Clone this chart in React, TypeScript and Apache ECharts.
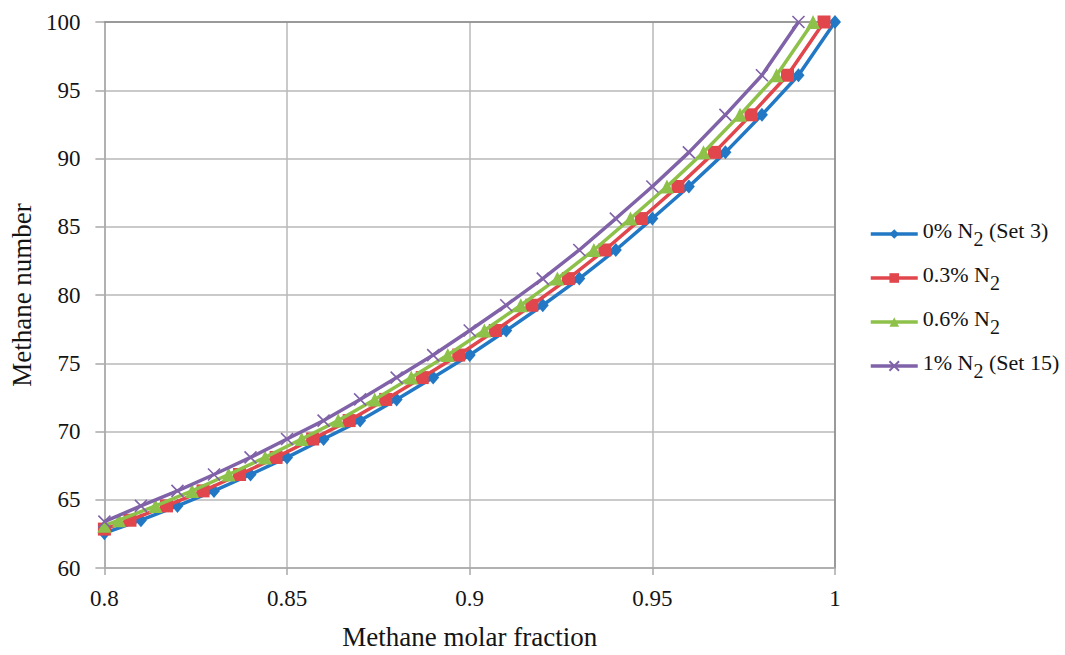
import React, { useEffect, useRef } from "react";
import * as echarts from "echarts";

const xTicks = ["0.8", "0.85", "0.9", "0.95", "1"];
const seriesNames = ["0% N2 (Set 3)", "0.3% N2", "0.6% N2", "1% N2 (Set 15)"];

const blueX = [0.80, 0.81, 0.82, 0.83, 0.84, 0.85, 0.86, 0.87, 0.88, 0.89, 0.90, 0.91, 0.92, 0.93, 0.94, 0.95, 0.96, 0.97, 0.98, 0.99, 1.00];
const blueY = [62.55, 63.5, 64.55, 65.65, 66.85, 68.1, 69.45, 70.8, 72.35, 73.95, 75.6, 77.4, 79.25, 81.2, 83.3, 85.6, 87.95, 90.45, 93.2, 96.1, 100];

const redX = [0.80, 0.807, 0.817, 0.827, 0.837, 0.847, 0.857, 0.867, 0.877, 0.887, 0.897, 0.907, 0.917, 0.927, 0.937, 0.947, 0.957, 0.967, 0.977, 0.987, 0.997];
const redY = [62.85, 63.5, 64.55, 65.65, 66.85, 68.1, 69.45, 70.8, 72.35, 73.95, 75.6, 77.4, 79.25, 81.2, 83.3, 85.6, 87.95, 90.45, 93.2, 96.1, 100];

const greenX = [0.80, 0.804, 0.814, 0.824, 0.834, 0.844, 0.854, 0.864, 0.874, 0.884, 0.894, 0.904, 0.914, 0.924, 0.934, 0.944, 0.954, 0.964, 0.974, 0.984, 0.994];
const greenY = [63.1, 63.5, 64.55, 65.65, 66.85, 68.1, 69.45, 70.8, 72.35, 73.95, 75.6, 77.4, 79.25, 81.2, 83.3, 85.6, 87.95, 90.45, 93.2, 96.1, 100];

const purpleX = [0.80, 0.81, 0.82, 0.83, 0.84, 0.85, 0.86, 0.87, 0.88, 0.89, 0.90, 0.91, 0.92, 0.93, 0.94, 0.95, 0.96, 0.97, 0.98, 0.99];
const purpleY = [63.4, 64.55, 65.65, 66.85, 68.1, 69.45, 70.8, 72.35, 73.95, 75.6, 77.4, 79.25, 81.2, 83.3, 85.6, 87.95, 90.45, 93.2, 96.1, 100];

const colors = ["#2278c4", "#e0464b", "#8ec14a", "#8062a8"];
const FONT = "Liberation Serif";
const TXT = "#141414";

const zip = (xs: number[], ys: number[]) => xs.map((x, i) => [x, ys[i]]);

const legendRich: Record<string, string> = {
  "0% N2 (Set 3)": "{n|0% N}{sub|2}{n| (Set 3)}",
  "0.3% N2": "{n|0.3% N}{sub|2}",
  "0.6% N2": "{n|0.6% N}{sub|2}",
  "1% N2 (Set 15)": "{n|1% N}{sub|2}{n| (Set 15)}",
};

export default function App() {
  const ref = useRef<HTMLDivElement>(null);
  useEffect(() => {
    if (!ref.current) return;
    const chart = echarts.init(ref.current, undefined, { renderer: "svg" });
    const mk = (i: number, data: number[][], symbol: string, size: any, extra: any = {}) => ({
      name: seriesNames[i],
      type: "line",
      data,
      symbol,
      symbolSize: size,
      showSymbol: true,
      lineStyle: { color: colors[i], width: 3.5 },
      itemStyle: { color: colors[i], ...extra },
      z: 2 + i,
    });
    chart.setOption({
      animation: false,
      backgroundColor: "#ffffff",
      grid: { left: 96, top: 22, width: 739, height: 552 },
      xAxis: [
        {
          type: "value",
          min: 0.8,
          max: 1,
          interval: 0.05,
          name: "Methane molar fraction",
          nameLocation: "middle",
          nameGap: 55,
          nameTextStyle: { fontFamily: FONT, fontSize: 27, color: TXT },
          axisLine: { show: true, lineStyle: { color: "#a8a8a8", width: 1.5 } },
          axisTick: { show: true, length: 7, lineStyle: { color: "#a8a8a8", width: 1.5 } },
          axisLabel: {
            fontFamily: FONT,
            fontSize: 23,
            color: TXT,
            margin: 19,
            formatter: (v: number) => xTicks[Math.round((v - 0.8) / 0.05)] ?? "",
          },
          splitLine: { show: true, lineStyle: { color: "#b8b8b8", width: 1.5 } },
        },
        {
          type: "value",
          position: "top",
          min: 0.8,
          max: 1,
          interval: 0.05,
          axisLine: { show: true, lineStyle: { color: "#8a8a8a", width: 1.5 } },
          axisTick: { show: false },
          axisLabel: { show: false },
          splitLine: { show: false },
        },
      ],
      yAxis: [
        {
          type: "value",
          min: 60,
          max: 100,
          interval: 5,
          name: "Methane number",
          nameLocation: "middle",
          nameGap: 61,
          nameTextStyle: { fontFamily: FONT, fontSize: 27, color: TXT },
          axisLine: { show: true, lineStyle: { color: "#a8a8a8", width: 1.5 } },
          axisTick: { show: true, length: 9, lineStyle: { color: "#a8a8a8", width: 1.5 } },
          axisLabel: { fontFamily: FONT, fontSize: 23, color: TXT, margin: 24 },
          splitLine: { show: true, lineStyle: { color: "#b8b8b8", width: 1.5 } },
        },
        {
          type: "value",
          position: "right",
          min: 60,
          max: 100,
          interval: 5,
          axisLine: { show: true, lineStyle: { color: "#8a8a8a", width: 1.5 } },
          axisTick: { show: false },
          axisLabel: { show: false },
          splitLine: { show: false },
        },
      ],
      legend: {
        orient: "vertical",
        left: 864,
        top: 214,
        itemWidth: 47,
        itemHeight: 12,
        itemGap: 14,
        data: seriesNames,
        lineStyle: { width: 3.5 },
        formatter: (name: string) => legendRich[name] ?? name,
        textStyle: {
          fontFamily: FONT,
          fontSize: 22,
          color: TXT,
          rich: {
            n: { fontFamily: FONT, fontSize: 22, color: TXT, padding: [0, 0, 8, 0], verticalAlign: "bottom" },
            sub: { fontFamily: FONT, fontSize: 20, color: TXT, verticalAlign: "bottom" },
          },
        },
      },
      series: [
        mk(0, zip(blueX, blueY), "diamond", [12, 14]),
        mk(1, zip(redX, redY), "rect", 13),
        mk(2, zip(greenX, greenY), "triangle", 14),
        mk(3, zip(purpleX, purpleY), "path://M0,0L10,10M10,0L0,10", 12, {
          borderColor: colors[3],
          borderWidth: 1.6,
        }),
      ],
    });
    return () => chart.dispose();
  }, []);
  return <div ref={ref} style={{ position: "fixed", left: 0, top: 0, width: 1065, height: 655 }} />;
}
